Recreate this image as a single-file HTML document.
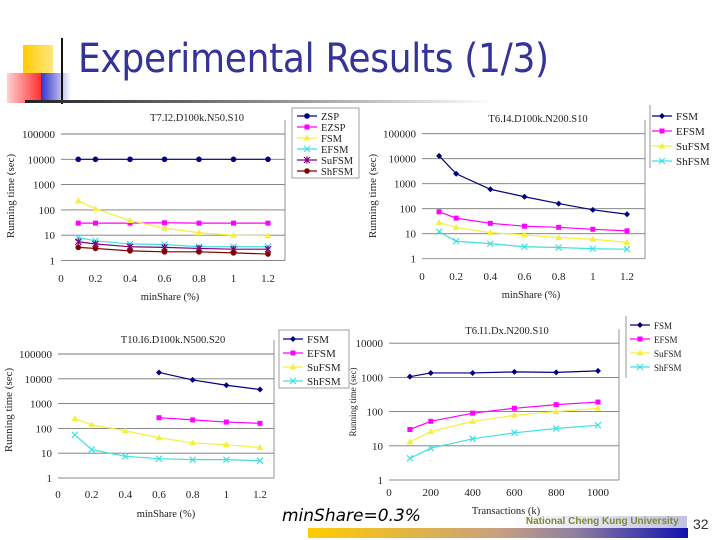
<!DOCTYPE html>
<html><head><meta charset="utf-8">
<style>
html,body{margin:0;padding:0;background:#fff;}
#slide{position:relative;width:720px;height:540px;overflow:hidden;background:#fff;font-family:"Liberation Sans",sans-serif;}
.abs{position:absolute;}
</style></head>
<body>
<div id="slide">
  <div class="abs" style="left:23px;top:45px;width:30px;height:30px;background:linear-gradient(90deg,#ffcc00,#ffe680);"></div>
  <div class="abs" style="left:7px;top:73px;width:34px;height:30px;background:linear-gradient(90deg,#ffd0d0,#ff3030);"></div>
  <div class="abs" style="left:41px;top:73px;width:30px;height:30px;background:linear-gradient(90deg,#3333cc,#ffffff);"></div>
  <div class="abs" style="left:61px;top:38px;width:2px;height:66px;background:#111;"></div>
  <div class="abs" style="left:25px;top:100px;width:470px;height:3px;background:linear-gradient(90deg,#222,#888 50%,#fff);"></div>
  <div class="abs" style="left:78px;top:36px;font-size:40px;color:#333399;font-family:'DejaVu Sans Condensed','Liberation Sans',sans-serif;letter-spacing:-0.3px;">Experimental Results (1/3)</div>

  <svg id="charts" class="abs" style="left:0;top:0" width="720" height="540"></svg>

  <div class="abs" style="left:282px;top:506px;font-size:17px;font-style:italic;color:#000;font-family:'DejaVu Sans','Liberation Sans',sans-serif;">minShare=0.3%</div>
  <div class="abs" style="left:308px;top:528px;width:380px;height:10px;background:linear-gradient(90deg,#ffcc00,#c8a080 50%,#9080a0 70%,#1010b0);"></div>
  <div class="abs" style="left:512px;top:516px;width:175px;height:12px;color:#7a8a30;font-size:10px;font-weight:bold;background:linear-gradient(90deg,#fff,#c0c0e0);white-space:nowrap;">&nbsp;&nbsp;&nbsp;&nbsp;&nbsp;National Cheng Kung University</div>
  <div class="abs" style="left:693px;top:516px;font-size:14px;color:#333;">32</div>
</div>
<script>
// ---- data ----
const c1X = [0.1,0.2,0.4,0.6,0.8,1,1.2];
const c1ZSP = [10000,10000,10000,10000,10000,10000,10000];
const c1EZSP = [30,30,30,31,30,30,30];
const c1FSM = [230,110,38,19,12.5,10,9.5];
const c1EFSM = [8,6,4.5,4.3,3.5,3.5,3.5];
const c1SuFSM = [5.5,4.5,3.5,3.3,3,2.8,2.8];
const c1ShFSM = [3.3,3,2.4,2.2,2.2,2,1.8];

const c2X = [0.1,0.2,0.4,0.6,0.8,1,1.2];
const c2FSM = [13000,2500,600,300,160,90,60];
const c2EFSM = [75,42,26,20,18,15,13];
const c2SuFSM = [28,18,11,9,7,6,4.5];
const c2ShFSM = [12,5,4,3,2.8,2.5,2.4];

const c3X = [0.1,0.2,0.4,0.6,0.8,1,1.2];
const c3XSub = [0.6,0.8,1,1.2];
const c3FSM = [18000,9000,5500,3700];
const c3EFSM = [270,220,180,160];
const c3SuFSM = [250,140,80,42,26,22,17];
const c3ShFSM = [55,14,7.5,6,5.5,5.5,5];

const c4X = [100,200,400,600,800,1000];
const c4FSM = [1050,1350,1350,1450,1400,1550];
const c4EFSM = [30,52,90,125,160,190];
const c4SuFSM = [13,26,52,78,100,125];
const c4ShFSM = [4.3,8.5,16,24,32,40];

const tickX1 = ['0','0.2','0.4','0.6','0.8','1','1.2'];
const tickXv1 = [0,0.2,0.4,0.6,0.8,1,1.2];
const tickX4 = ['0','200','400','600','800','1000'];
const tickXv4 = [0,200,400,600,800,1000];
const tickY5 = ['1','10','100','1000','10000','100000'];
const tickYv5 = [1,10,100,1000,10000,100000];
const tickY4 = ['1','10','100','1000','10000'];
const tickYv4 = [1,10,100,1000,10000];

const NS='http://www.w3.org/2000/svg';
const svg=document.getElementById('charts');
function mk(tag,attrs,parent){const e=document.createElementNS(NS,tag);for(const k in attrs)e.setAttribute(k,attrs[k]);(parent||svg).appendChild(e);return e;}
const COL={navy:'#000080',mag:'#ff00ff',yel:'#f2f040',cyan:'#40e0e0',pur:'#800080',brn:'#800000'};

function marker(g,type,x,y,c){
  let m;
  if(type==='diamond') m=mk('polygon',{points:`${x},${y-3} ${x+3},${y} ${x},${y+3} ${x-3},${y}`,fill:c},g);
  else if(type==='square') m=mk('rect',{x:x-2.5,y:y-2.5,width:5,height:5,fill:c},g);
  else if(type==='tri') m=mk('polygon',{points:`${x},${y-3.5} ${x+3.5},${y+2.5} ${x-3.5},${y+2.5}`,fill:c},g);
  else if(type==='x'){m=mk('path',{d:`M${x-3} ${y-3}L${x+3} ${y+3}M${x+3} ${y-3}L${x-3} ${y+3}`,stroke:c,'stroke-width':1.2,fill:'none'},g);}
  else if(type==='star'){m=mk('path',{d:`M${x-3} ${y-3}L${x+3} ${y+3}M${x+3} ${y-3}L${x-3} ${y+3}M${x} ${y-3.5}L${x} ${y+3.5}`,stroke:c,'stroke-width':1.2,fill:'none'},g);}
  else m=mk('circle',{cx:x,cy:y,r:2.8,fill:c},g);
  
  
}

function chart(cfg){
  const g=mk('g',{});
  
  
  const xs=v=>cfg.x0+(v-cfg.xmin)/(cfg.xmax-cfg.xmin)*(cfg.x1-cfg.x0);
  const ys=v=>cfg.yb-Math.log10(v)*cfg.dec;
  const ytop=ys(cfg.tickYv[cfg.tickYv.length-1]);
  cfg.tickYv.forEach((v,i)=>{
    const y=ys(v);
    const l=mk('line',{x1:cfg.x0,x2:cfg.pr,y1:y,y2:y,stroke:i===0?'#888':'#777','stroke-width':0.9},g);
    
    
    const t=mk('text',{x:cfg.x0-6,y:y+4,'text-anchor':'end','font-size':11,'font-family':'Liberation Serif,serif',fill:'#222'},g);
    t.textContent=cfg.tickY[i];
    
    
  });
  const rb=mk('line',{x1:cfg.pr,x2:cfg.pr,y1:ytop-14,y2:cfg.yb,stroke:'#888','stroke-width':0.9},g);
  
  
  cfg.tickXv.forEach((v,i)=>{
    const t=mk('text',{x:xs(v),y:cfg.xly,'text-anchor':'middle','font-size':11,'font-family':'Liberation Serif,serif',fill:'#222'},g);
    t.textContent=cfg.tickX[i];
    
    
  });
  const tt=mk('text',{x:cfg.tx,y:cfg.ty,'text-anchor':'middle','font-size':10.5,'font-family':'Liberation Serif,serif',fill:'#222'},g);
  tt.textContent=cfg.title;
  
  
  const xt=mk('text',{x:cfg.xtx,y:cfg.xty,'text-anchor':'middle','font-size':10.5,'font-family':'Liberation Serif,serif',fill:'#222'},g);
  xt.textContent=cfg.xtitle;
  
  
  const yt=mk('text',{x:0,y:0,'text-anchor':'middle','font-size':cfg.ytfs||11,'font-family':'Liberation Serif,serif',fill:'#222',transform:`translate(${cfg.ytx},${cfg.yty}) rotate(-90)`},g);
  yt.textContent='Running time (sec)';
  
  
  cfg.series.forEach(s=>{
    const pts=s.x.map((xv,i)=>[xs(xv),ys(s.y[i])]);
    if(s.line!==false){
      const p=mk('polyline',{points:pts.map(p=>p.join(',')).join(' '),fill:'none',stroke:s.c,'stroke-width':1.2},g);
      
      
    }
    pts.forEach(p=>marker(g,s.m,p[0],p[1],s.c));
  });
  const lg=mk('g',{},g);
  
  
  if(cfg.lbox){mk('rect',Object.assign({fill:'#fff',stroke:'#888','stroke-width':0.8},cfg.lbox),lg);}
  cfg.series.forEach((s,i)=>{
    const y=cfg.ly+i*cfg.lstep;
    if(s.line!==false) mk('line',{x1:cfg.lx,x2:cfg.lx+20,y1:y,y2:y,stroke:s.c,'stroke-width':1.2},lg);
    marker(lg,s.m,cfg.lx+10,y,s.c);
    const t=mk('text',{x:cfg.lx+24,y:y+4,'font-size':cfg.lfs||11,'font-family':'Liberation Serif,serif',fill:'#222'},lg);
    t.textContent=s.n;
    
    
  });
}

chart({name:'chart-t7',x0:61,x1:268,xmin:0,xmax:1.2,yb:260.5,dec:25.3,pr:285,
  tickY:tickY5,tickYv:tickYv5,tickX:tickX1,tickXv:tickXv1,xly:282,
  title:'T7.I2.D100k.N50.S10',tx:197,ty:121,xtitle:'minShare (%)',xtx:170,xty:300,ytx:14,yty:196,
  lx:297,ly:116,lstep:11,lfs:10.5,lbox:{x:292,y:108,width:67,height:70},
  series:[{n:'ZSP',x:c1X,y:c1ZSP,c:COL.navy,m:'circle'},{n:'EZSP',x:c1X,y:c1EZSP,c:COL.mag,m:'square'},
  {n:'FSM',x:c1X,y:c1FSM,c:COL.yel,m:'tri'},{n:'EFSM',x:c1X,y:c1EFSM,c:COL.cyan,m:'x'},
  {n:'SuFSM',x:c1X,y:c1SuFSM,c:COL.pur,m:'star'},{n:'ShFSM',x:c1X,y:c1ShFSM,c:COL.brn,m:'circle'}]});

chart({name:'chart-t6-n200',x0:422,x1:627,xmin:0,xmax:1.2,yb:258.7,dec:25,pr:645,
  tickY:tickY5,tickYv:tickYv5,tickX:tickX1,tickXv:tickXv1,xly:280,
  title:'T6.I4.D100k.N200.S10',tx:538,ty:122,xtitle:'minShare (%)',xtx:531,xty:298,ytx:376,yty:196,
  lx:652,ly:116,lstep:15,lfs:11,
  series:[{n:'FSM',x:c2X,y:c2FSM,c:COL.navy,m:'diamond'},{n:'EFSM',x:c2X,y:c2EFSM,c:COL.mag,m:'square'},
  {n:'SuFSM',x:c2X,y:c2SuFSM,c:COL.yel,m:'tri'},{n:'ShFSM',x:c2X,y:c2ShFSM,c:COL.cyan,m:'x'}]});

chart({name:'chart-t10',x0:58,x1:260,xmin:0,xmax:1.2,yb:478,dec:24.8,pr:274,
  tickY:tickY5,tickYv:tickYv5,tickX:tickX1,tickXv:tickXv1,xly:498,
  title:'T10.I6.D100k.N500.S20',tx:173,ty:343,xtitle:'minShare (%)',xtx:166,xty:517,ytx:12,yty:410,
  lx:283,ly:339,lstep:14,lfs:11,lbox:{x:279,y:330,width:70,height:58},
  series:[{n:'FSM',x:c3XSub,y:c3FSM,c:COL.navy,m:'diamond'},{n:'EFSM',x:c3XSub,y:c3EFSM,c:COL.mag,m:'square'},
  {n:'SuFSM',x:c3X,y:c3SuFSM,c:COL.yel,m:'tri'},{n:'ShFSM',x:c3X,y:c3ShFSM,c:COL.cyan,m:'x'}]});

chart({name:'chart-t6-dx',x0:389,x1:598,xmin:0,xmax:1000,yb:480,dec:34.2,pr:619,
  tickY:tickY4,tickYv:tickYv4,tickX:tickX4,tickXv:tickXv4,xly:496,
  title:'T6.I1.Dx.N200.S10',tx:507,ty:334,xtitle:'Transactions (k)',xtx:506,xty:514,ytx:356,yty:402,ytfs:9,
  lx:630,ly:325,lstep:14,lfs:9,
  series:[{n:'FSM',x:c4X,y:c4FSM,c:COL.navy,m:'diamond'},{n:'EFSM',x:c4X,y:c4EFSM,c:COL.mag,m:'square'},
  {n:'SuFSM',x:c4X,y:c4SuFSM,c:COL.yel,m:'tri'},{n:'ShFSM',x:c4X,y:c4ShFSM,c:COL.cyan,m:'x'}]});
const vl=mk('line',{x1:626,x2:626,y1:316,y2:378,stroke:'#888','stroke-width':0.9});


const vl2=mk('line',{x1:650,x2:650,y1:105,y2:168,stroke:'#888','stroke-width':0.9});


</script>
</body></html>
